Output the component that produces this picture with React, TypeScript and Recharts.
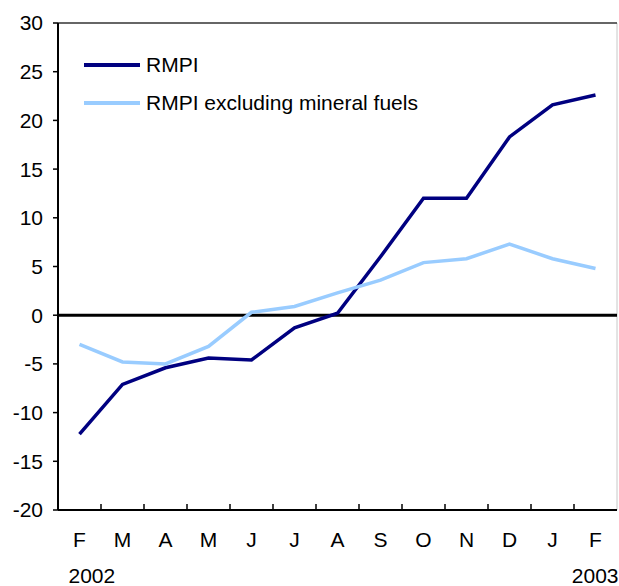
import { LineChart, Line, XAxis, YAxis, ReferenceLine, CartesianGrid } from 'recharts';

// month labels, Feb 2002 .. Feb 2003
const months = ['F', 'M', 'A', 'M', 'J', 'J', 'A', 'S', 'O', 'N', 'D', 'J', 'F'];
const rmpi = [-12.2, -7.1, -5.4, -4.4, -4.6, -1.3, 0.2, 6.0, 12.0, 12.0, 18.3, 21.6, 22.6];
const rmpiExFuels = [-3.0, -4.8, -5.0, -3.2, 0.3, 0.9, 2.3, 3.6, 5.4, 5.8, 7.3, 5.8, 4.8];
const yTicks = [-20, -15, -10, -5, 0, 5, 10, 15, 20, 25, 30];
const years = ['2002', '2003'];

const data = months.map((m, i) => ({ month: m, rmpi: rmpi[i], ex: rmpiExFuels[i] }));

const FONT = '"Liberation Sans", Arial, sans-serif';
const DARK = '#000080';
const LIGHT = '#99CCFF';
const BAND = 43;

// month label + tick mark between months, years under first/last month
const MonthTick = ({ x, y, payload, index }: any) => {
  const last = index === months.length - 1;
  return (
    <g>
      {index > 0 && (
        <line x1={x - BAND / 2} x2={x - BAND / 2} y1={y} y2={y - 6} stroke="#000" strokeWidth={1.5} />
      )}
      <text x={x} y={y + 37} textAnchor="middle" fontSize={21} fontFamily={FONT} fill="#000">
        {payload.value}
      </text>
      {index === 0 && (
        <text x={x - 11} y={y + 73} textAnchor="start" fontSize={21} fontFamily={FONT} fill="#000">
          {years[0]}
        </text>
      )}
      {last && (
        <text x={x + 23} y={y + 73} textAnchor="end" fontSize={21} fontFamily={FONT} fill="#000">
          {years[1]}
        </text>
      )}
    </g>
  );
};

const legendItems = [
  { name: 'RMPI', color: DARK },
  { name: 'RMPI excluding mineral fuels', color: LIGHT },
];

export default function App() {
  return (
    <div style={{ position: 'absolute', left: 0, top: 0, width: 619, height: 586, background: '#fff' }}>
      <LineChart width={619} height={586} data={data} margin={{ top: 23, right: 2, bottom: 0, left: 0 }}>
        <CartesianGrid horizontal={false} verticalPoints={[617]} stroke="#c8c8c8" strokeWidth={1} />
        <XAxis
          dataKey="month"
          interval={0}
          height={76}
          padding={{ left: BAND / 2, right: BAND / 2 }}
          tickLine={false}
          tickSize={0}
          tickMargin={0}
          axisLine={{ stroke: '#000', strokeWidth: 2 }}
          tick={<MonthTick />}
        />
        <YAxis
          type="number"
          domain={[-20, 30]}
          ticks={yTicks}
          interval={0}
          width={58}
          tickSize={5}
          tickMargin={10}
          tickLine={{ stroke: '#000', strokeWidth: 1.5 }}
          axisLine={{ stroke: '#000', strokeWidth: 2 }}
          tick={{ fontSize: 21, fontFamily: FONT, fill: '#000' }}
        />
        <ReferenceLine y={30} stroke="#333" strokeWidth={1.5} />
        <ReferenceLine y={0} stroke="#000" strokeWidth={3} />
        <Line dataKey="rmpi" stroke={DARK} strokeWidth={3.5} dot={false} isAnimationActive={false} />
        <Line dataKey="ex" stroke={LIGHT} strokeWidth={3.5} dot={false} isAnimationActive={false} />
      </LineChart>
      <div style={{ position: 'absolute', left: 84, top: 46, fontFamily: FONT, fontSize: 21, color: '#000' }}>
        {legendItems.map((it) => (
          <div key={it.name} style={{ display: 'flex', alignItems: 'center', height: 38 }}>
            <span style={{ display: 'inline-block', width: 56, height: 4, background: it.color, marginRight: 6 }} />
            <span>{it.name}</span>
          </div>
        ))}
      </div>
    </div>
  );
}
